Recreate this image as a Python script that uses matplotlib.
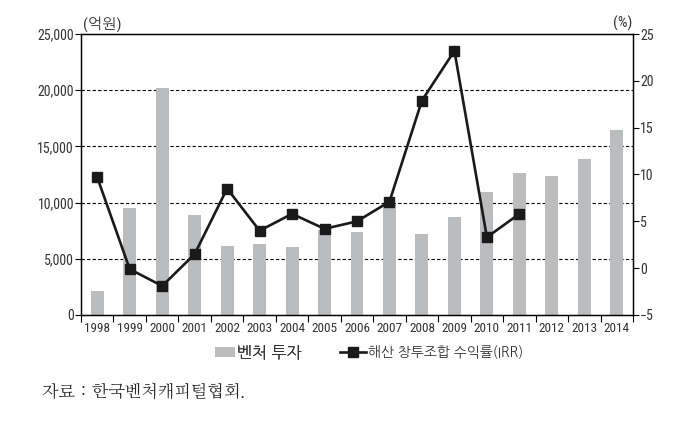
import matplotlib
matplotlib.use("Agg")
import matplotlib.pyplot as plt
from matplotlib.lines import Line2D
from matplotlib.patches import Patch
import numpy as np

years = ["1998", "1999", "2000", "2001", "2002", "2003", "2004", "2005", "2006",
         "2007", "2008", "2009", "2010", "2011", "2012", "2013", "2014"]
venture_invest = [2100, 9500, 20200, 8900, 6170, 6290, 6050, 7590, 7360,
                  9900, 7200, 8690, 10900, 12600, 12370, 13850, 16430]
irr_years = ["1998", "1999", "2000", "2001", "2002", "2003", "2004", "2005",
             "2006", "2007", "2008", "2009", "2010", "2011"]
irr_values = [9.7, -0.1, -1.9, 1.5, 8.5, 4.0, 5.8, 4.2, 5.0, 7.1, 17.9, 23.2, 3.3, 5.8]
left_ticks = [0, 5000, 10000, 15000, 20000, 25000]
right_ticks = [-5, 0, 5, 10, 15, 20, 25]
legend_labels = ["벤처 투자", "해산 창투조합 수익률(IRR)"]

fam = ["Roboto Condensed", "NanumGothic", "Noto Sans CJK KR", "DejaVu Sans"]
kr_fam = ["NanumGothic", "Noto Sans CJK KR", "DejaVu Sans"]
src_fam = ["NanumMyeongjo", "Noto Sans CJK KR", "DejaVu Sans"]
plt.rcParams['font.family'] = fam

fig = plt.figure(figsize=(6.82, 4.24), dpi=100)
ax = fig.add_axes([81/682, (424-315)/424, 552/682, 281/424])

x = np.arange(len(years))
bar_color = "#bbbcbe"
line_color = "#1a1a1a"
text_color = "#333333"
ax.bar(x, venture_invest, width=0.4, color=bar_color, zorder=2)
ax.set_xlim(-0.5, len(years) - 0.5)
ax.set_ylim(0, 25000)
ax.set_yticks(left_ticks)
ax.set_yticklabels([f"{v:,}" for v in left_ticks], fontsize=10, family=fam, color=text_color)
for v in left_ticks[1:-1]:
    ax.axhline(v, color="black", lw=0.8, ls=(0, (3, 2)), zorder=1)

ax.set_xticks(x)
ax.set_xticklabels(years, fontsize=9.5, family=fam, color=text_color)
ax.tick_params(axis="x", length=0, pad=5)
ax.set_xticks(np.arange(-0.5, len(years), 1), minor=True)
ax.tick_params(axis="x", which="minor", length=5, width=0.8, direction="out")
ax.tick_params(axis="y", length=4, width=0.8, direction="out", pad=1)
for s in ax.spines.values():
    s.set_linewidth(1.0)

ax2 = ax.twinx()
xi = [years.index(y) for y in irr_years]
ax2.plot(xi, irr_values, color=line_color, lw=1.9, marker="s", markersize=6.5,
         markerfacecolor=line_color, zorder=3)
ax2.set_ylim(-5, 25)
ax2.set_yticks(right_ticks)
ax2.set_yticklabels([("−5" if v == -5 else str(v)) for v in right_ticks], fontsize=10,
                    family=fam, color=text_color)
ax2.tick_params(axis="y", length=4, width=0.8, direction="out", pad=1)

fig.text(83/682, 1 - 24/424, "(억원)", fontsize=11, family=fam, va="center", ha="left",
         color=text_color)
fig.text(632/682, 1 - 23/424, "(%)", fontsize=11, family=fam, va="center", ha="right",
         color=text_color)

leg1 = fig.legend([Patch(facecolor=bar_color, edgecolor="none")], [legend_labels[0]],
                  loc="center left", bbox_to_anchor=(215/682, 1 - 352/424),
                  frameon=False, prop={"family": kr_fam, "size": 11.5},
                  handlelength=1.25, handleheight=0.6, handletextpad=0.15,
                  borderpad=0, borderaxespad=0, labelcolor=text_color)
fig.add_artist(leg1)
fig.legend([Line2D([0], [0], color=line_color, lw=1.9, marker="s", markersize=6.5)],
           [legend_labels[1]], loc="center left", bbox_to_anchor=(340/682, 1 - 352/424),
           frameon=False, prop={"family": kr_fam, "size": 10},
           handlelength=1.9, handletextpad=0.15, borderpad=0, borderaxespad=0,
           labelcolor=text_color)

fig.text(42/682, 1 - 392/424, "자료 : 한국벤처캐피털협회.", fontsize=12.5, family=src_fam,
         va="center", ha="left", color="#222222")

fig.savefig("out.png", dpi=100)
